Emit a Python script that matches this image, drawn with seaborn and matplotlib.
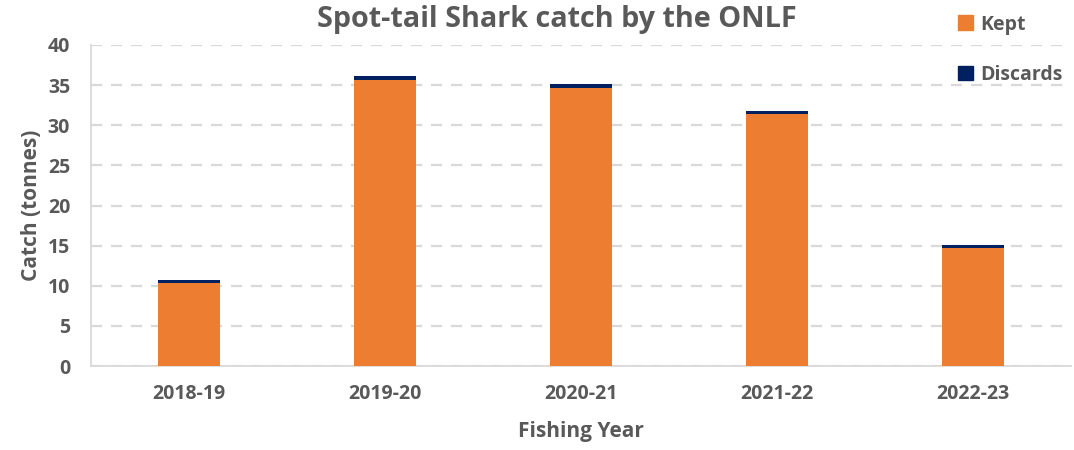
import matplotlib
matplotlib.use("Agg")
import matplotlib.pyplot as plt
from matplotlib.patches import Patch
import seaborn as sns
import pandas as pd

# Catch per fishing year (tonnes)
years = ["2018-19", "2019-20", "2020-21", "2021-22", "2022-23"]
kept = [10.35, 35.7, 34.7, 31.45, 14.65]
discards = [0.37, 0.4, 0.4, 0.32, 0.38]

ORANGE = "#ED7D31"
NAVY = "#002060"
GREY = "#595959"
GRID = "#D9D9D9"

sns.set_theme(style="white")
plt.rcParams["font.family"] = ["Open Sans", "DejaVu Sans"]

df = pd.DataFrame({"year": years, "kept": kept, "discards": discards})
df["total"] = df["kept"] + df["discards"]

fig = plt.figure(figsize=(10.74, 4.5), dpi=100)
ax = fig.add_axes([91 / 1074, 1 - 366 / 450, (1071 - 91) / 1074, (366 - 45) / 450])

# Stacked bars: total (discards on top) drawn first, kept over it
sns.barplot(data=df, x="year", y="total", color=NAVY, width=0.316,
            saturation=1, linewidth=0, ax=ax, zorder=3)
sns.barplot(data=df, x="year", y="kept", color=ORANGE, width=0.316,
            saturation=1, linewidth=0, ax=ax, zorder=4)

ax.set_ylim(0, 40)
ax.set_xlim(-0.5, 4.5)
ax.set_yticks(range(0, 41, 5))
ax.yaxis.grid(True, color=GRID, linestyle=(0, (5, 4)), linewidth=1.6, zorder=0)
ax.set_axisbelow(True)

for side in ["top", "right"]:
    ax.spines[side].set_visible(False)
for side in ["left", "bottom"]:
    ax.spines[side].set_color(GRID)
    ax.spines[side].set_linewidth(1.3)

ax.tick_params(axis="both", length=0, labelsize=14, labelcolor=GREY)
for lab in ax.get_xticklabels() + ax.get_yticklabels():
    lab.set_fontweight("bold")
ax.tick_params(axis="x", pad=13)
ax.tick_params(axis="y", pad=15)

ax.set_xlabel("Fishing Year", fontsize=15, fontweight="bold", color=GREY, labelpad=12)
ax.set_ylabel("Catch (tonnes)", fontsize=15, fontweight="bold", color=GREY, labelpad=4)

fig.text(557 / 1074, 1 - 19 / 450, "Spot-tail Shark catch by the ONLF",
         ha="center", va="center", fontsize=20.7, fontweight="bold", color=GREY)

handles = [Patch(facecolor=ORANGE, edgecolor=ORANGE, label="Kept"),
           Patch(facecolor=NAVY, edgecolor=NAVY, label="Discards")]
leg = fig.legend(handles=handles, loc="upper left",
                 bbox_to_anchor=(944 / 1074, 1 - 1 / 450),
                 frameon=False, fontsize=14, labelspacing=1.55,
                 handlelength=0.8, handleheight=0.8, handletextpad=0.35,
                 borderpad=0.2)
for t in leg.get_texts():
    t.set_fontweight("bold")
    t.set_color(GREY)

fig.savefig("out.png", dpi=100)
